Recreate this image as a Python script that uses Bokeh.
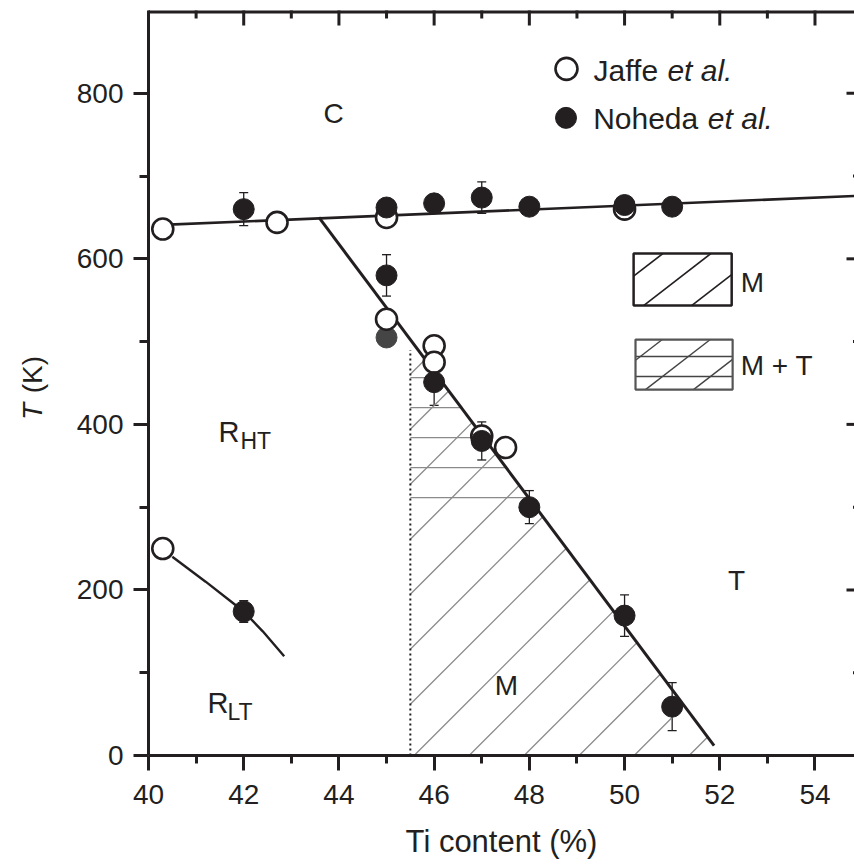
import math
from bokeh.plotting import figure
from bokeh.layouts import row
from bokeh.models import (ColumnDataSource, Range1d, FixedTicker, Label, Whisker, TeeHead)
from bokeh.embed import file_html
from bokeh.resources import INLINE

# ---- data -------------------------------------------------------------
# Jaffe et al. (open circles): Ti content (%) and transition temperature (K)
jaffe_ti = [40.3, 42.7, 45.0, 45.0, 46.0, 46.0, 47.0, 47.5, 50.0, 40.3]
jaffe_T = [636, 644, 650, 527, 495, 475, 386, 372, 660, 250]

# Noheda et al. (filled circles) with error bars (K)
noheda_ti = [42.0, 45.0, 46.0, 47.0, 48.0, 50.0, 51.0,
             45.0, 46.0, 47.0, 48.0, 50.0, 51.0, 42.0]
noheda_T = [660, 662, 667, 674, 663, 665, 663,
            580, 451, 380, 300, 169, 59, 174]
noheda_err = [20, 0, 0, 19, 0, 0, 0,
              25, 28, 23, 20, 25, 29, 13]

# Noheda et al. point drawn in grey
noheda_grey_ti = [45.0]
noheda_grey_T = [505]

# phase boundaries
cubic_ti = [40.3, 54.85]          # C / ferroelectric boundary
cubic_T = [641, 676]
mpb_ti = [43.58, 51.88]           # R / M / T boundary
mpb_T = [650, 12]
rlt_ti = [40.5, 41.2, 41.8, 42.0, 42.4, 42.85]   # R_HT / R_LT boundary
rlt_T = [240, 210, 183, 174, 150, 120]

m_left_ti = 45.5                  # left edge of the monoclinic region
m_left_top_T = 490
mt_band_T = [305, 470]            # M + T coexistence band

x_major = [40, 42, 44, 46, 48, 50, 52, 54]
x_minor = [41, 43, 45, 47, 49, 51, 53]
y_major = [0, 200, 400, 600, 800]
y_minor = [100, 300, 500, 700]

X_MIN, X_MAX = 40, 54.83
Y_MIN, Y_MAX = 0, 900

FONT = "Liberation Sans"
INK = "#231f20"

# ---- main figure ------------------------------------------------------
W, H = 794, 864
B_LEFT, B_TOP, B_BOTTOM = 88, 10, 109
p = figure(width=W, height=H, x_range=Range1d(X_MIN, X_MAX), y_range=Range1d(Y_MIN, Y_MAX),
           output_backend="svg", toolbar_location=None,
           min_border_left=B_LEFT, min_border_right=0, min_border_top=B_TOP,
           min_border_bottom=B_BOTTOM)
p.grid.visible = False
p.outline_line_color = None
p.background_fill_color = "white"
p.border_fill_color = "white"

# pixels per data unit inside the frame (used to lay hatch lines at true screen angles)
PX_X = (W - B_LEFT) / (X_MAX - X_MIN)
PX_Y = (H - B_TOP - B_BOTTOM) / (Y_MAX - Y_MIN)


def style_axis(ax, ticks, minors, min_out):
    ax.ticker = FixedTicker(ticks=ticks, minor_ticks=minors)
    ax.axis_line_color = INK
    ax.axis_line_width = 3
    ax.major_tick_line_color = INK
    ax.minor_tick_line_color = INK
    ax.major_tick_line_width = 3
    ax.minor_tick_line_width = 3
    ax.major_tick_in = 0
    ax.major_tick_out = 15
    ax.minor_tick_in = 0
    ax.minor_tick_out = min_out
    ax.major_label_text_font = FONT
    ax.major_label_text_font_size = "28px"
    ax.major_label_text_color = INK


xax = p.xaxis[0]
style_axis(xax, x_major, x_minor, 8)
xax.major_label_standoff = 14
xax.axis_label = "Ti content (%)"
xax.axis_label_text_font = FONT
xax.axis_label_text_font_size = "31px"
xax.axis_label_text_font_style = "normal"
xax.axis_label_text_color = INK
xax.axis_label_standoff = 17

yax = p.yaxis[0]
style_axis(yax, y_major, y_minor, 9)
yax.major_label_standoff = 10
yax.major_label_orientation = "horizontal"

# closed box along the top edge and inward ticks on the top and right edges
p.line([X_MIN, X_MAX], [Y_MAX, Y_MAX], line_color=INK, line_width=6)
p.scatter(x_major, [Y_MAX] * len(x_major), marker="dash", angle=math.pi / 2,
          size=30, line_color=INK, line_width=3)
p.scatter(x_minor, [Y_MAX] * len(x_minor), marker="dash", angle=math.pi / 2,
          size=16, line_color=INK, line_width=3)
p.scatter([X_MAX] * len(y_major), y_major, marker="dash", size=16,
          line_color=INK, line_width=3)
p.scatter([X_MAX] * len(y_minor), y_minor, marker="dash", size=3,
          line_color=INK, line_width=3)


# ---- hatching ---------------------------------------------------------
def hatch_lines(poly_x, poly_y, angle_deg, spacing_px, through):
    """Parallel lines at a screen angle, clipped to a convex polygon."""
    pts = [(x * PX_X, y * PX_Y) for x, y in zip(poly_x, poly_y)]
    a = math.radians(angle_deg)
    d = (math.cos(a), math.sin(a))
    n = (-math.sin(a), math.cos(a))
    proj = [px * n[0] + py * n[1] for px, py in pts]
    phase = through[0] * PX_X * n[0] + through[1] * PX_Y * n[1]
    k = math.ceil((min(proj) - phase) / spacing_px)
    xs, ys = [], []
    s = phase + k * spacing_px
    while s < max(proj):
        hits = []
        for i in range(len(pts)):
            (x1, y1), (x2, y2) = pts[i], pts[(i + 1) % len(pts)]
            f1 = x1 * n[0] + y1 * n[1] - s
            f2 = x2 * n[0] + y2 * n[1] - s
            if f1 != f2 and (f1 <= 0 <= f2 or f2 <= 0 <= f1):
                t = f1 / (f1 - f2)
                hits.append((x1 + t * (x2 - x1), y1 + t * (y2 - y1)))
        if len(hits) >= 2:
            hits.sort(key=lambda q: q[0] * d[0] + q[1] * d[1])
            xs.append([hits[0][0] / PX_X, hits[-1][0] / PX_X])
            ys.append([hits[0][1] / PX_Y, hits[-1][1] / PX_Y])
        s += spacing_px
    return xs, ys


mpb_slope = (mpb_T[1] - mpb_T[0]) / (mpb_ti[1] - mpb_ti[0])


def mpb_x_at(T):
    return mpb_ti[0] + (T - mpb_T[0]) / mpb_slope


def mpb_T_at(x):
    return mpb_T[0] + (x - mpb_ti[0]) * mpb_slope


# monoclinic region: diagonal hatching
m_xs = [m_left_ti, m_left_ti, mpb_x_at(0)]
m_ys = [0, mpb_T_at(m_left_ti), 0]
hx, hy = hatch_lines(m_xs, m_ys, 45, 55 * math.sin(math.radians(45)), (45.58, 0))
p.multi_line(hx, hy, line_color="#8a8a8a", line_width=1.3)

# M + T band: additional horizontal hatching
mt_xs = [m_left_ti, m_left_ti, mpb_x_at(mt_band_T[1]), mpb_x_at(mt_band_T[0])]
mt_ys = [mt_band_T[0], mt_band_T[1], mt_band_T[1], mt_band_T[0]]
hx, hy = hatch_lines(mt_xs, mt_ys, 0, 30, (m_left_ti, 384))
p.multi_line(hx, hy, line_color="#8a8a8a", line_width=1.3)

# ---- boundaries -------------------------------------------------------
p.line(cubic_ti, cubic_T, line_color=INK, line_width=2.6)
p.line(mpb_ti, mpb_T, line_color=INK, line_width=3)
p.line(rlt_ti, rlt_T, line_color=INK, line_width=2.4)
p.line([m_left_ti, m_left_ti], [0, m_left_top_T], line_color=INK, line_width=2,
       line_dash="2 3")

# ---- data points ------------------------------------------------------
err_src = ColumnDataSource(dict(
    x=[x for x, e in zip(noheda_ti, noheda_err) if e > 0],
    lo=[t - e for t, e in zip(noheda_T, noheda_err) if e > 0],
    hi=[t + e for t, e in zip(noheda_T, noheda_err) if e > 0],
))
p.add_layout(Whisker(source=err_src, base="x", lower="lo", upper="hi",
                     line_color=INK, line_width=1.3,
                     lower_head=TeeHead(size=9, line_color=INK, line_width=1.3),
                     upper_head=TeeHead(size=9, line_color=INK, line_width=1.3)))

p.scatter(noheda_grey_ti, noheda_grey_T, marker="circle", size=21,
          fill_color="#454545", line_color="#454545", line_width=1)
p.scatter(jaffe_ti, jaffe_T, marker="circle", size=21,
          fill_color="white", line_color=INK, line_width=2.6)
p.scatter(noheda_ti, noheda_T, marker="circle", size=21,
          fill_color=INK, line_color=INK, line_width=1)

# ---- key --------------------------------------------------------------
p.scatter([48.78], [829.5], marker="circle", size=22, fill_color="white",
          line_color=INK, line_width=2.6)
p.scatter([48.77], [770.3], marker="circle", size=21, fill_color=INK,
          line_color=INK, line_width=1)


def text(fig, x, y, s, size="28px", style="normal", align="left", angle=0.0):
    fig.add_layout(Label(x=x, y=y, text=s, text_font=FONT, text_font_size=size,
                         text_font_style=style, text_color=INK, text_align=align,
                         text_baseline="alphabetic", angle=angle))


text(p, 49.35, 828, "Jaffe", size="30px")
text(p, 50.90, 828, "et al.", size="30px", style="italic")
text(p, 49.34, 770, "Noheda", size="30px")
text(p, 51.75, 770, "et al.", size="30px", style="italic")

# hatch swatches for M and M + T
box_m = ([50.19, 52.25, 52.25, 50.19], [543.6, 543.6, 606.4, 606.4])
box_mt = ([50.23, 52.27, 52.27, 50.23], [442, 442, 502.5, 502.5])
swatch_angle = 37.7
swatch_gap = 48 * math.sin(math.radians(swatch_angle))

hx, hy = hatch_lines(*box_m, swatch_angle, swatch_gap, (50.40, 543.6))
p.multi_line(hx, hy, line_color=INK, line_width=1.6)
p.quad(left=[box_m[0][0]], right=[box_m[0][1]], bottom=[box_m[1][0]], top=[box_m[1][2]],
       fill_alpha=0, line_color=INK, line_width=2.5)

hx, hy = hatch_lines(*box_mt, swatch_angle, swatch_gap, (50.44, 442))
p.multi_line(hx, hy, line_color="#444444", line_width=1.4)
hx, hy = hatch_lines(*box_mt, 0, 20, (50.23, 482))
p.multi_line(hx, hy, line_color="#444444", line_width=1.4)
p.quad(left=[box_mt[0][0]], right=[box_mt[0][1]], bottom=[box_mt[1][0]], top=[box_mt[1][2]],
       fill_alpha=0, line_color="#555555", line_width=2.2)

text(p, 52.44, 572, "M")
text(p, 52.44, 471, "M + T")

# ---- phase labels -----------------------------------------------------
text(p, 43.89, 775.5, "C", align="center")
text(p, 41.47, 391, "R", size="29px")
text(p, 41.93, 380, "HT", size="23px")
text(p, 41.24, 63, "R", size="29px")
text(p, 41.66, 52, "LT", size="23px")
text(p, 47.52, 84.5, "M", align="center")
text(p, 52.35, 211, "T", align="center")

# ---- y-axis title strip: italic T followed by the unit -----------------
t = figure(width=854 - W, height=H, x_range=Range1d(0, 854 - W), y_range=Range1d(0, H),
           output_backend="svg", toolbar_location=None, min_border=0,
           x_axis_location=None, y_axis_location=None)
t.grid.visible = False
t.outline_line_color = None
t.background_fill_color = "white"
t.border_fill_color = "white"
text(t, 32, 389, "T", size="28px", style="italic", angle=math.pi / 2)
text(t, 32, 420, "(K)", size="28px", angle=math.pi / 2)

layout = row(t, p, spacing=0)
open("out.html", "w").write(file_html(layout, INLINE))
